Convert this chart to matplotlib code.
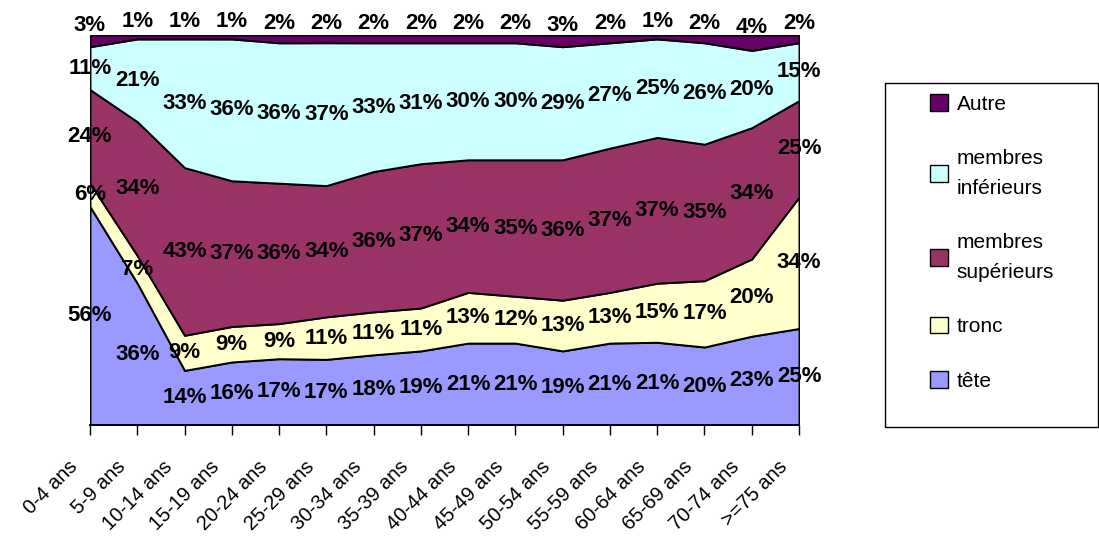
import matplotlib
matplotlib.use('Agg')
import matplotlib.pyplot as plt
import matplotlib.transforms as mtransforms
from matplotlib.patches import Patch, Rectangle
import numpy as np

plt.rcParams['font.family'] = ['Liberation Sans', 'DejaVu Sans']

ages = ['0-4 ans', '5-9 ans', '10-14 ans', '15-19 ans', '20-24 ans', '25-29 ans',
        '30-34 ans', '35-39 ans', '40-44 ans', '45-49 ans', '50-54 ans', '55-59 ans',
        '60-64 ans', '65-69 ans', '70-74 ans', '>=75 ans']
tete = [56, 36, 14, 16, 17, 17, 18, 19, 21, 21, 19, 21, 21, 20, 23, 25]
tronc = [6, 7, 9, 9, 9, 11, 11, 11, 13, 12, 13, 13, 15, 17, 20, 34]
membres_sup = [24, 34, 43, 37, 36, 34, 36, 37, 34, 35, 36, 37, 37, 35, 34, 25]
membres_inf = [11, 21, 33, 36, 36, 37, 33, 31, 30, 30, 29, 27, 25, 26, 20, 15]
autre = [3, 1, 1, 1, 2, 2, 2, 2, 2, 2, 3, 2, 1, 2, 4, 2]

series = [tete, tronc, membres_sup, membres_inf, autre]
names = ['tête', 'tronc', 'membres\nsupérieurs', 'membres\ninférieurs', 'Autre']
colors = ['#9999FF', '#FFFFCC', '#993366', '#CCFFFF', '#660066']

vals = np.array(series, dtype=float)
pct = vals / vals.sum(axis=0) * 100          # 100% empilé
cum = np.vstack([np.zeros(len(ages)), np.cumsum(pct, axis=0)])
x = np.arange(len(ages))

fig = plt.figure(figsize=(10.99, 5.40), dpi=100)
ax = fig.add_axes([90/1099, 115/540, 709/1099, 390/540])

for i in range(len(series)):
    ax.fill_between(x, cum[i], cum[i+1], facecolor=colors[i], edgecolor='black',
                    linewidth=1.4, zorder=2)
    for j in range(len(ages)):
        yc = (cum[i][j] + cum[i+1][j]) / 2
        dy = 11 if i == len(series) - 1 else 0
        ax.annotate('%d%%' % series[i][j], (x[j], yc), xytext=(0, dy),
                    textcoords='offset points', ha='center', va='center',
                    fontsize=16, fontweight='bold', annotation_clip=False, zorder=5)

ax.set_xlim(0, len(ages) - 1)
ax.set_ylim(0, 100)
ax.set_yticks([])
for s in ['left', 'right', 'top']:
    ax.spines[s].set_visible(False)
ax.spines['bottom'].set_linewidth(1.4)
ax.spines['bottom'].set_zorder(3)

ax.set_xticks(x)
ax.set_xticklabels(ages, rotation=45, ha='right', va='center',
                   rotation_mode='anchor', fontsize=14.5)
ax.tick_params(axis='x', direction='out', length=7, width=1, pad=21)
shift = mtransforms.ScaledTranslation(-0.15, 0, fig.dpi_scale_trans)
for lab in ax.get_xticklabels():
    lab.set_transform(lab.get_transform() + shift)

# légende
fig.patches.append(Rectangle((885/1099, 113/540), 213/1099, 344/540,
                             transform=fig.transFigure, facecolor='white',
                             edgecolor='black', linewidth=1, zorder=0))
handles = [Patch(facecolor=colors[i], edgecolor='black', linewidth=1)
           for i in range(len(series) - 1, -1, -1)]
labels = [names[i] for i in range(len(series) - 1, -1, -1)]
leg = fig.legend(handles, labels, loc='upper left', bbox_to_anchor=(920/1099, 1 - 84/540),
                 frameon=False, fontsize=15, handlelength=0.85, handleheight=0.85,
                 handletextpad=0.4, labelspacing=1.67, borderpad=0)
for t in leg.get_texts():
    t.set_linespacing(1.75)

fig.savefig('out.png', dpi=100)
